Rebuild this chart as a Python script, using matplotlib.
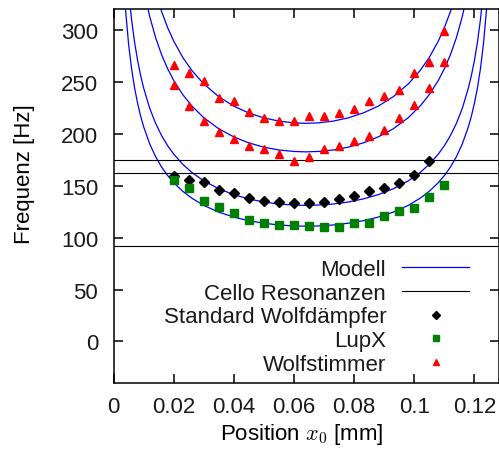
import matplotlib
matplotlib.use("Agg")
import matplotlib.pyplot as plt

plt.rcParams.update({
    "font.family": "Liberation Sans",
    "font.size": 16,
    "text.color": "#1a1a1a",
    "xtick.labelcolor": "#1a1a1a",
    "ytick.labelcolor": "#1a1a1a",
    "mathtext.fontset": "cm",
    "axes.linewidth": 1.1,
    "xtick.direction": "in",
    "ytick.direction": "in",
    "xtick.top": True,
    "ytick.right": True,
    "xtick.major.size": 6.5,
    "ytick.major.size": 6.5,
    "xtick.major.width": 1.1,
    "ytick.major.width": 1.1,
})

# Modellkurven (gleiche x-Stuetzstellen fuer alle vier Kurven)
x_modell = [0.003, 0.004, 0.005, 0.006, 0.007, 0.008, 0.009, 0.010, 0.012,
            0.014, 0.016, 0.018, 0.020, 0.023, 0.026, 0.030, 0.035, 0.040,
            0.045, 0.050, 0.055, 0.060, 0.064, 0.068, 0.073, 0.078, 0.083,
            0.088, 0.093, 0.098, 0.102, 0.105, 0.108, 0.110, 0.112, 0.114,
            0.116, 0.118, 0.119, 0.120, 0.121, 0.122, 0.123, 0.124, 0.125]

_links_210 = [694.1, 603.5, 541.9, 496.8, 461.8, 433.8, 410.7, 391.3, 360.2,
              336.4, 317.5, 302.0, 289.2, 273.5, 261.0, 247.9, 235.6, 226.5,
              219.9, 215.2, 212.1, 210.4]
_links_182 = [603.2, 524.5, 471.0, 431.7, 401.3, 377.0, 356.9, 340.0, 313.1,
              292.4, 275.9, 262.5, 251.3, 237.7, 226.8, 215.4, 204.7, 196.9,
              191.1, 187.0, 184.3, 182.9]
_links_131 = [433.0, 376.5, 338.1, 309.9, 288.1, 270.6, 256.2, 244.1, 224.7,
              209.9, 198.1, 188.4, 180.4, 170.6, 162.8, 154.6, 147.0, 141.3,
              137.2, 134.2, 132.3, 131.3]
_links_111 = [366.9, 319.0, 286.5, 262.6, 244.1, 229.3, 217.1, 206.8, 190.4,
              177.8, 167.8, 159.7, 152.9, 144.6, 138.0, 131.0, 124.5, 119.7,
              116.2, 113.8, 112.1, 111.2]

# Kurven sind symmetrisch um die Saitenmitte
modell_1 = _links_210 + [210.0] + _links_210[::-1]
modell_2 = _links_182 + [182.5] + _links_182[::-1]
modell_3 = _links_131 + [131.0] + _links_131[::-1]
modell_4 = _links_111 + [111.0] + _links_111[::-1]

resonanzen = [174.5, 162.0, 92.0]

x_standard = [0.020, 0.025, 0.030, 0.035, 0.040, 0.045, 0.050, 0.055, 0.060,
              0.065, 0.070, 0.075, 0.080, 0.085, 0.090, 0.095, 0.100, 0.105]
f_standard = [159.5, 155.6, 153.5, 145.7, 142.5, 138.5, 135.6, 134.2, 133.5,
              133.5, 134.6, 136.9, 139.6, 144.7, 147.3, 152.8, 160.6, 173.3]

x_lupx = [0.020, 0.025, 0.030, 0.035, 0.040, 0.045, 0.050, 0.055, 0.060,
          0.065, 0.070, 0.075, 0.080, 0.085, 0.090, 0.095, 0.100, 0.105, 0.110]
f_lupx = [155.3, 147.8, 135.4, 129.6, 123.8, 117.1, 114.2, 112.3, 112.3,
          110.7, 109.8, 109.8, 114.2, 114.2, 121.0, 125.8, 128.4, 139.2, 150.8]

x_wolf = x_lupx
f_wolf_oben = [266.5, 258.3, 250.4, 234.6, 231.6, 221.1, 215.3, 212.1, 212.1,
               217.2, 217.2, 220.1, 223.4, 231.1, 236.5, 242.3, 258.4, 269.3, 299.1]
f_wolf_unten = [246.5, 226.3, 212.1, 202.0, 195.1, 188.3, 185.2, 180.1, 173.9,
                177.2, 185.2, 188.1, 193.2, 197.7, 204.0, 215.3, 227.2, 244.2, 269.3]

fig = plt.figure(figsize=(4.99, 4.60), dpi=100)
ax = fig.add_axes([0.2275, 0.1652, 0.7715, 0.8130])

for i, kurve in enumerate([modell_1, modell_2, modell_3, modell_4]):
    ax.plot(x_modell, kurve, color="#0000ff", lw=0.9,
            label="Modell" if i == 0 else None)
for i, f in enumerate(resonanzen):
    ax.axhline(f, color="black", lw=0.8,
               label="Cello Resonanzen" if i == 0 else None)

ax.plot(x_standard, f_standard, ls="none", marker="D", ms=5, color="black",
        label="Standard Wolfdämpfer")
ax.plot(x_lupx, f_lupx, ls="none", marker="s", ms=5.8, color="#008000",
        label="LupX")
ax.plot(x_wolf, f_wolf_oben, ls="none", marker="^", ms=5.5, color="#ff0000",
        label="Wolfstimmer")
ax.plot(x_wolf, f_wolf_unten, ls="none", marker="^", ms=5.5, color="#ff0000")

ax.set_xlim(0, 0.128)
ax.set_ylim(-40, 320)
ax.set_xticks([0, 0.02, 0.04, 0.06, 0.08, 0.1, 0.12])
ax.set_xticklabels(["0", "0.02", "0.04", "0.06", "0.08", "0.1", "0.12"])
ax.set_yticks([0, 50, 100, 150, 200, 250, 300])
ax.tick_params(axis="x", pad=9.5)
ax.tick_params(axis="y", pad=11)

ax.set_xlabel(r"Position $x_0$ [mm]")
ax.set_ylabel("Frequenz [Hz]")
ax.xaxis.set_label_coords(0.488, -0.102)
ax.yaxis.set_label_coords(-0.204, 0.561)

ax.legend(loc="lower right", bbox_to_anchor=(0.923, 0.022), frameon=False,
          markerfirst=False, handlelength=3.0, handletextpad=0.72,
          labelspacing=0.12, markerscale=0.85, borderpad=0, borderaxespad=0)

fig.savefig("out.png", dpi=100)
